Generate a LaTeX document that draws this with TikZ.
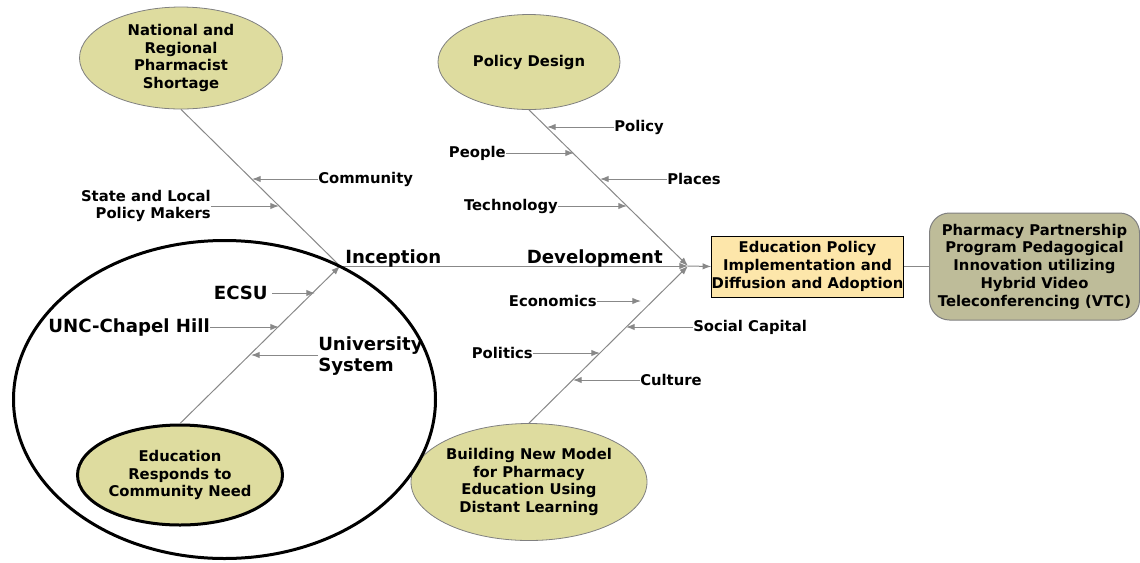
\documentclass[tikz,border=0pt]{standalone}
\usepackage{fontspec}
\setmainfont{DejaVu Sans}
\usetikzlibrary{arrows.meta,shapes.geometric}
\definecolor{olivefill}{HTML}{DEDC9F}
\definecolor{boxfill}{HTML}{FDE6AA}
\definecolor{vtcfill}{HTML}{BEBC99}
\definecolor{linegray}{HTML}{888888}
\begin{document}
\begin{tikzpicture}[x=0.75pt,y=-0.75pt,
  font=\bfseries\fontsize{11.1}{13.3}\selectfont,
  every node/.style={align=center},
  small/.style={font=\bfseries\fontsize{11.1}{12.8}\selectfont, inner sep=0pt},
  big/.style={font=\bfseries\fontsize{13.6}{15.8}\selectfont, inner sep=0pt},
  blob/.style={ellipse, draw=gray, fill=olivefill, line width=0.6pt, inner sep=0pt},
  plain/.style={draw=linegray, line width=0.75pt},
  conn/.style={plain, -{Latex[length=6.5pt,width=4.8pt]}}
]
\useasboundingbox (0,0) rectangle (1140,562);

% ellipses
\node[blob, minimum width=152.25pt, minimum height=76.5pt] (nrps) at (181,58)
  {National and\\Regional\\Pharmacist\\Shortage};
\node[blob, minimum width=136.5pt, minimum height=71.25pt] (pd) at (529,62) {Policy Design};
\node[blob, draw=black, line width=2.25pt, minimum width=153.75pt, minimum height=75pt] (edu) at (180,475)
  {Education\\Responds to\\Community Need};
\node[blob, minimum width=177pt, minimum height=87.75pt] (bnm) at (529,482)
  {Building New Model\\for Pharmacy\\Education Using\\Distant Learning};

% boxes
\node[draw=black, fill=boxfill, line width=0.75pt, minimum width=143.25pt, minimum height=45.75pt, inner sep=0pt] (box) at (807.5,266.5)
  {Education Policy\\Implementation and\\Diffusion and Adoption};
\node[draw=gray, fill=vtcfill, rounded corners=15pt, line width=0.75pt, minimum width=157.5pt, minimum height=80.25pt, inner sep=0pt] (vtc) at (1034.5,266.5)
  {Pharmacy Partnership\\Program Pedagogical\\Innovation utilizing\\Hybrid Video\\Teleconferencing (VTC)};

% spine
\coordinate (J1) at (340,266);
\coordinate (J2) at (688,266);
\draw[plain] (nrps.south) -- (J1);
\draw[conn] (edu.north) -- (J1);
\draw[conn] (J1) -- (J2);
\draw[conn] (pd.south) -- (J2);
\draw[conn] (bnm.north) -- (J2);
\draw[conn] (J2) -- (box.west);
\draw[plain] (box.east) -- (vtc.west);

% stage labels
\node[big, anchor=west] (inc) at (345,258) {Inception};
\node[big, anchor=east] (dev) at (663,258) {Development};

% branch tips
\coordinate (tCom) at (252,179);
\coordinate (tSta) at (279,206);
\coordinate (tEcs) at (315,293);
\coordinate (tUnc) at (279,327);
\coordinate (tUni) at (251,355);
\coordinate (tPol) at (547,127);
\coordinate (tPeo) at (574,153);
\coordinate (tPla) at (600,179);
\coordinate (tTec) at (627,206);
\coordinate (tEco) at (641,301);
\coordinate (tSoc) at (626,327);
\coordinate (tPoli) at (600,353);
\coordinate (tCul) at (573,380);

% branch labels
\node[small, anchor=west] (com) at (318,179) {Community};
\node[small, anchor=east, align=right] (sta) at (211,206) {State and Local\\Policy Makers};
\node[big, anchor=east, inner xsep=3pt] (ecs) at (272,293) {ECSU};
\node[big, anchor=east] (unc) at (210,327) {UNC-Chapel Hill};
\node[big, anchor=west, align=left] (uni) at (318,356) {University\\System};
\node[small, anchor=west] (pol) at (614,127) {Policy};
\node[small, anchor=east] (peo) at (506,153) {People};
\node[small, anchor=west] (pla) at (667,179) {Places};
\node[small, anchor=east] (tec) at (558,206) {Technology};
\node[small, anchor=east] (eco) at (597,301) {Economics};
\node[small, anchor=west] (soc) at (693,327) {Social Capital};
\node[small, anchor=east] (poli) at (533,353) {Politics};
\node[small, anchor=west] (cul) at (640,380) {Culture};

\draw[conn] (com.west) -- (tCom);
\draw[conn] (sta.east) -- (tSta);
\draw[conn] (ecs.east) -- (tEcs);
\draw[conn] (unc.east) -- (tUnc);
\draw[conn] (uni.west |- tUni) -- (tUni);
\draw[conn] (pol.west) -- (tPol);
\draw[conn] (peo.east) -- (tPeo);
\draw[conn] (pla.west) -- (tPla);
\draw[conn] (tec.east) -- (tTec);
\draw[conn] (eco.east) -- (tEco);
\draw[conn] (soc.west) -- (tSoc);
\draw[conn] (poli.east) -- (tPoli);
\draw[conn] (cul.west) -- (tCul);

% enclosing ellipse
\node[ellipse, draw=black, line width=2.25pt, minimum width=316.5pt, minimum height=238.5pt, inner sep=0pt] (ring) at (224.5,399.5) {};
\end{tikzpicture}
\end{document}
